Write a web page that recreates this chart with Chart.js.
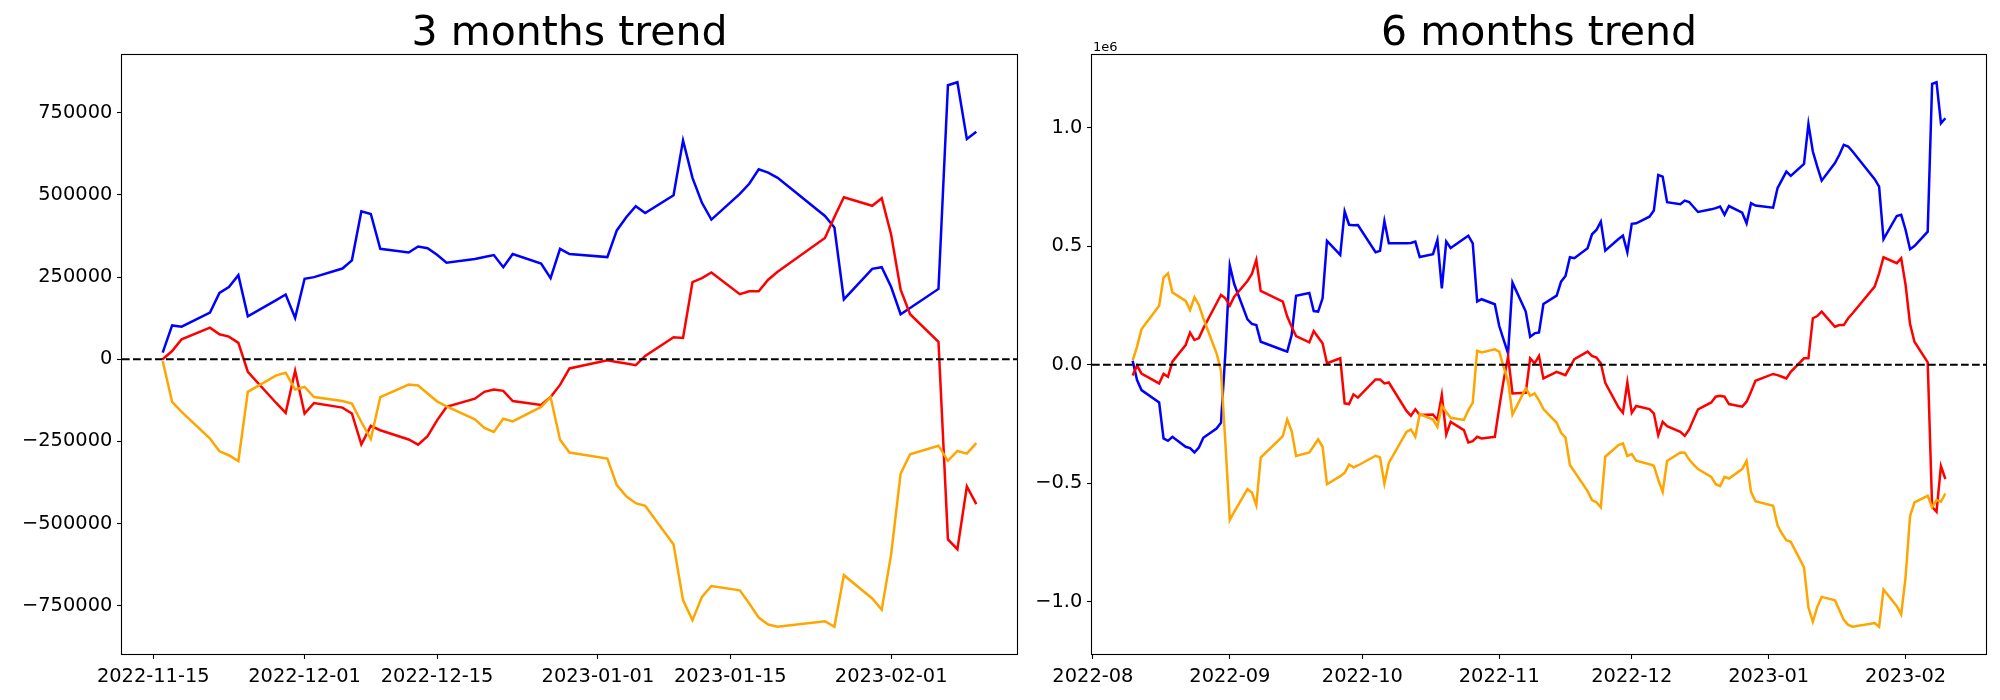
<!DOCTYPE html>
<html>
<head>
<meta charset="utf-8">
<script src="https://cdn.jsdelivr.net/npm/chart.js@4.4.0/dist/chart.umd.min.js"></script>
<style>
  body { margin: 0; background: #fff; width: 2000px; height: 700px; position: relative; overflow: hidden; }
  canvas { position: absolute; top: 0; }
</style>
</head>
<body>
<canvas id="chart3" width="1025" height="700" style="left:0"></canvas>
<canvas id="chart6" width="975" height="700" style="left:1025px"></canvas>
<script>
'use strict';

// 3 months: trading days counted from start3
const start3 = '2022-11-15';
const days3 = [1, 2, 3, 6, 7, 8, 9, 10, 13, 14, 15, 16, 17, 20, 21, 22, 23, 24, 27, 28, 29, 30, 31, 34, 35, 36, 37, 38,
  41, 42, 43, 44, 48, 49, 50, 51, 52, 55, 56, 57, 58, 59, 62, 63, 64, 65, 66, 71, 72, 73, 76, 77, 78, 79, 80, 83, 84, 85, 86, 87];
const blue3 = [20000, 103000, 99000, 142000, 202000, 220000, 256000, 131000, 180000, 197000, 126000, 245000, 250000,
  276000, 301000, 450000, 442000, 336000, 325000, 343000, 338000, 318000, 294000, 305000, 311000, 317000, 280000, 320000,
  291000, 247000, 336000, 320000, 311000, 392000, 432000, 466000, 445000, 499000, 666000, 552000, 476000, 425000,
  503000, 534000, 578000, 568000, 552000, 436000, 401000, 182000, 275000, 280000, 220000, 137000, 156000,
  214000, 834000, 843000, 670000, 692000];
const red3 = [0, 25000, 61000, 96000, 76000, 69000, 50000, -38000, -133000, -163000, -35000, -165000, -133000,
  -147000, -165000, -259000, -203000, -216000, -244000, -260000, -234000, -186000, -145000, -120000, -99000, -92000, -96000, -127000,
  -139000, -115000, -78000, -28000, -3000, -8000, -13000, -18000, 10000, 67000, 65000, 235000, 247000, 264000,
  198000, 207000, 207000, 242000, 266000, 369000, 433000, 493000, 467000, 490000, 379000, 212000, 137000,
  53000, -548000, -578000, -387000, -441000];
const orange3 = [-5000, -130000, -160000, -241000, -280000, -292000, -310000, -99000, -49000, -41000, -92000, -84000, -115000,
  -127000, -135000, -191000, -243000, -115000, -77000, -80000, -104000, -128000, -143000, -183000, -209000, -221000, -181000, -189000,
  -145000, -115000, -245000, -284000, -302000, -383000, -417000, -438000, -446000, -564000, -733000, -794000, -723000, -690000,
  -703000, -743000, -786000, -807000, -814000, -797000, -814000, -657000, -728000, -762000, -593000, -348000, -289000,
  -263000, -309000, -279000, -287000, -255000];
const xTicks3 = ['2022-11-15', '2022-12-01', '2022-12-15', '2023-01-01', '2023-01-15', '2023-02-01'];
const yTicks3 = [-750000, -500000, -250000, 0, 250000, 500000, 750000];

// 6 months: trading days counted from start6
const start6 = '2022-08-01';
const days6 = [9, 10, 11, 15, 16, 17, 18, 21, 22, 23, 24, 25, 28, 29, 30, 31, 32, 35, 36, 37, 38, 43, 44, 45, 46,
  49, 50, 51, 52, 53, 56, 57, 58, 59, 60, 64, 65, 66, 67, 71, 72, 73, 74, 77, 78, 79, 80, 81, 84, 85, 86, 87, 88,
  91, 92, 93, 94, 95, 98, 99, 100, 101, 102, 105, 106, 107, 108, 109, 112, 113, 114, 115, 116, 119, 120, 121, 122, 123,
  126, 127, 128, 129, 130, 133, 134, 135, 136, 137, 140, 141, 142, 143, 144, 147, 148, 149, 150, 154, 155, 156, 157, 158,
  161, 162, 163, 164, 165, 168, 169, 170, 171, 172, 177, 178, 179, 182, 183, 184, 185, 186, 189, 190, 191, 192, 193];
const blue6 = [17000, -65000, -107000, -159000, -311000, -321000, -304000, -346000, -352000, -370000, -349000, -308000,
  -269000, -245000, 50000, 418000, 340000, 191000, 172000, 167000, 97000, 62000, 55000, 125000, 291000,
  302000, 226000, 224000, 280000, 522000, 463000, 646000, 590000, 588000, 589000, 474000, 480000, 606000, 512000,
  512000, 513000, 519000, 454000, 466000, 526000, 322000, 519000, 492000, 531000, 544000, 512000, 266000, 276000,
  255000, 163000, 105000, 48000, 346000, 224000, 118000, 132000, 136000, 256000, 291000, 350000, 374000, 453000, 449000,
  491000, 550000, 568000, 603000, 481000, 530000, 544000, 474000, 594000, 596000, 624000, 650000, 800000, 793000, 685000,
  677000, 692000, 686000, 665000, 644000, 655000, 660000, 667000, 632000, 669000, 641000, 596000, 681000, 671000,
  662000, 744000, 779000, 814000, 796000, 847000, 1015000, 899000, 835000, 776000, 850000, 885000, 927000, 920000, 899000,
  782000, 751000, 529000, 627000, 632000, 568000, 487000, 500000, 561000, 1184000, 1191000, 1018000, 1039000];
const red6 = [-46000, -4000, -37000, -79000, -39000, -51000, 13000, 83000, 135000, 104000, 112000, 153000,
  259000, 294000, 280000, 249000, 287000, 353000, 383000, 442000, 311000, 266000, 203000, 160000, 121000,
  94000, 142000, 116000, 90000, 6000, 27000, -163000, -166000, -125000, -139000, -62000, -62000, -79000, -75000,
  -195000, -215000, -188000, -212000, -210000, -233000, -128000, -294000, -241000, -276000, -328000, -322000, -304000, -311000,
  -304000, -180000, -65000, 34000, -121000, -118000, 27000, 6000, 37000, -58000, -30000, -37000, -44000, -10000, 23000,
  55000, 37000, 30000, 6000, -76000, -180000, -203000, -75000, -203000, -174000, -187000, -205000, -297000, -241000, -259000,
  -283000, -300000, -273000, -230000, -188000, -159000, -135000, -131000, -135000, -166000, -177000, -156000, -114000, -68000,
  -39000, -44000, -51000, -58000, -30000, 27000, 27000, 196000, 205000, 224000, 160000, 167000, 167000, 196000, 217000,
  329000, 385000, 453000, 428000, 449000, 336000, 172000, 97000, 10000, -599000, -620000, -428000, -482000];
const orange6 = [17000, 76000, 149000, 249000, 367000, 385000, 305000, 269000, 231000, 284000, 252000, 196000,
  48000, -25000, -330000, -655000, -620000, -525000, -539000, -592000, -392000, -301000, -231000, -280000, -385000,
  -370000, -343000, -315000, -346000, -504000, -470000, -456000, -421000, -433000, -425000, -384000, -391000, -501000, -414000,
  -283000, -273000, -304000, -208000, -231000, -262000, -173000, -200000, -224000, -233000, -191000, -160000, 59000, 52000,
  65000, 55000, -10000, -70000, -210000, -100000, -131000, -121000, -150000, -187000, -245000, -287000, -307000, -423000, -450000,
  -533000, -571000, -580000, -602000, -388000, -339000, -332000, -385000, -377000, -405000, -420000, -426000, -485000, -536000, -406000,
  -370000, -371000, -400000, -421000, -440000, -473000, -504000, -512000, -473000, -480000, -440000, -406000, -536000, -576000,
  -595000, -677000, -712000, -740000, -747000, -855000, -1024000, -1084000, -1021000, -979000, -993000, -1034000, -1076000, -1097000, -1105000,
  -1089000, -1105000, -948000, -1018000, -1053000, -895000, -639000, -581000, -553000, -602000, -571000, -578000, -543000];
const xTicks6 = ['2022-08', '2022-09', '2022-10', '2022-11', '2022-12', '2023-01', '2023-02'];
const yTicks6 = [-1000000, -500000, 0, 500000, 1000000];

const FONT = 'DejaVu Sans';
const MINUS = '\u2212';

const dayOf = (start, s) => (Date.parse(s.length === 7 ? `${s}-01` : s) - Date.parse(start)) / 864e5;
const padRange = (lo, hi) => {
  const m = (hi - lo) * 0.05;
  return [lo - m, hi + m];
};

// spines on all four sides, like matplotlib
const framePlugin = {
  id: 'frame',
  afterDatasetsDraw(chart) {
    const { ctx, chartArea: a } = chart;
    ctx.save();
    ctx.strokeStyle = '#000';
    ctx.lineWidth = 1.1;
    ctx.strokeRect(a.left - 0.5, a.top - 0.5, a.right - a.left + 1, a.bottom - a.top + 1);
    ctx.restore();
  },
};

const offsetTextPlugin = (text) => ({
  id: 'offsetText',
  afterDraw(chart) {
    if (!text) return;
    const { ctx, chartArea: a } = chart;
    ctx.save();
    ctx.font = `13px "${FONT}"`;
    ctx.fillStyle = '#000';
    ctx.textAlign = 'left';
    ctx.textBaseline = 'alphabetic';
    ctx.fillText(text, a.left + 1, a.top - 4);
    ctx.restore();
  },
});

const makeChart = (id, opts) => {
  const { title, start, days, series, xTicks, yTicks, yLabel, padRight, yWidth, offsetText } = opts;
  const [xMin, xMax] = padRange(days[0], days[days.length - 1]);
  const all = series.flatMap((s) => s.values);
  const [yMin, yMax] = padRange(Math.min(...all), Math.max(...all));
  const tickFont = { family: FONT, size: 19.4 };

  const datasets = [
    {
      data: [{ x: xMin, y: 0 }, { x: xMax, y: 0 }],
      borderColor: '#000',
      borderWidth: 2.1,
      borderDash: [7.7, 3.3],
    },
    ...series.slice().reverse().map((s) => ({
      data: days.map((d, i) => ({ x: d, y: s.values[i] })),
      borderColor: s.color,
      borderWidth: 2.5,
    })),
  ];

  return new Chart(document.getElementById(id), {
    type: 'line',
    data: { datasets },
    plugins: [framePlugin, offsetTextPlugin(offsetText)],
    options: {
      responsive: false,
      devicePixelRatio: 1,
      animation: false,
      elements: { point: { radius: 0 }, line: { tension: 0, fill: false } },
      layout: { padding: { left: 0, right: padRight, top: 0, bottom: 0 } },
      scales: {
        x: {
          type: 'linear',
          min: xMin,
          max: xMax,
          afterBuildTicks: (s) => { s.ticks = xTicks.map((t) => ({ value: dayOf(start, t) })); },
          afterFit: (s) => { s.height = 46; },
          ticks: {
            callback: (v, i) => xTicks[i],
            color: '#000',
            font: tickFont,
            padding: 6,
            maxRotation: 0,
            autoSkip: false,
          },
          grid: { drawOnChartArea: false, tickLength: 5, tickColor: '#000', tickWidth: 1.1 },
          border: { display: false },
        },
        y: {
          type: 'linear',
          min: yMin,
          max: yMax,
          afterBuildTicks: (s) => { s.ticks = yTicks.map((v) => ({ value: v })); },
          afterFit: (s) => { s.width = yWidth; },
          ticks: { callback: yLabel, color: '#000', font: tickFont, padding: 4.7 },
          grid: { drawOnChartArea: false, tickLength: 5, tickColor: '#000', tickWidth: 1.1 },
          border: { display: false },
        },
      },
      plugins: {
        legend: { display: false },
        tooltip: { enabled: false },
        title: {
          display: true,
          text: title,
          fullSize: false,
          color: '#000',
          font: { family: FONT, size: 41, weight: 'normal', lineHeight: 1 },
          padding: { top: 14, bottom: 0 },
        },
      },
    },
  });
};

makeChart('chart3', {
  title: '3 months trend',
  start: start3,
  days: days3,
  series: [
    { values: blue3, color: '#0000ff' },
    { values: red3, color: '#ff0000' },
    { values: orange3, color: '#ffa500' },
  ],
  xTicks: xTicks3,
  yTicks: yTicks3,
  yLabel: (v) => (v < 0 ? MINUS + Math.abs(v) : String(v)),
  padRight: 8,
  yWidth: 122,
});

makeChart('chart6', {
  title: '6 months trend',
  start: start6,
  days: days6,
  series: [
    { values: blue6, color: '#0000ff' },
    { values: red6, color: '#ff0000' },
    { values: orange6, color: '#ffa500' },
  ],
  xTicks: xTicks6,
  yTicks: yTicks6,
  yLabel: (v) => {
    const s = (Math.abs(v) / 1e6).toFixed(1);
    return v < 0 ? MINUS + s : s;
  },
  padRight: 14,
  yWidth: 67,
  offsetText: '1e6',
});
</script>
</body>
</html>
